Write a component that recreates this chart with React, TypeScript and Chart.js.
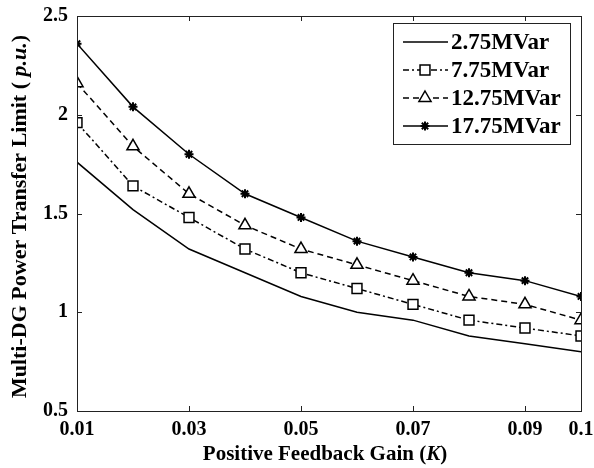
import React, { useEffect, useRef } from "react";
import { Chart, registerables } from "chart.js";

Chart.register(...registerables);

const gains = [0.01, 0.02, 0.03, 0.04, 0.05, 0.06, 0.07, 0.08, 0.09, 0.1];
const s275 = [1.76, 1.52, 1.32, 1.2, 1.08, 1.0, 0.96, 0.88, 0.84, 0.8];
const s775 = [1.96, 1.64, 1.48, 1.32, 1.2, 1.12, 1.04, 0.96, 0.92, 0.88];
const s1275 = [2.16, 1.84, 1.6, 1.44, 1.32, 1.24, 1.16, 1.08, 1.04, 0.96];
const s1775 = [2.36, 2.04, 1.8, 1.6, 1.48, 1.36, 1.28, 1.2, 1.16, 1.08];
const seriesNames = ["2.75MVar", "7.75MVar", "12.75MVar", "17.75MVar"];
const xTicks = [0.01, 0.03, 0.05, 0.07, 0.09, 0.1];
const xTickLabels = ["0.01", "0.03", "0.05", "0.07", "0.09", "0.1"];
const yTicks = [0.5, 1, 1.5, 2, 2.5];
const yTickLabels = ["0.5", "1", "1.5", "2", "2.5"];

const FONT = "'Liberation Serif', 'Times New Roman', serif";
const INK = "#000";

function toPts(vals: number[]) {
  return vals.map((v, i) => ({ x: gains[i], y: v }));
}

function drawMarker(ctx: CanvasRenderingContext2D, style: string, r: number, x: number, y: number) {
  ctx.beginPath();
  if (style === "rect") {
    const s = r * Math.SQRT1_2;
    ctx.rect(x - s, y - s, 2 * s, 2 * s);
    ctx.fill();
    ctx.stroke();
  } else if (style === "triangle") {
    ctx.moveTo(x, y - r);
    ctx.lineTo(x + r * 0.866, y + r / 2);
    ctx.lineTo(x - r * 0.866, y + r / 2);
    ctx.closePath();
    ctx.fill();
    ctx.stroke();
  } else {
    for (let k = 0; k < 4; k++) {
      const a = (k * Math.PI) / 4;
      ctx.moveTo(x + Math.cos(a) * r, y + Math.sin(a) * r);
      ctx.lineTo(x - Math.cos(a) * r, y - Math.sin(a) * r);
    }
    ctx.stroke();
  }
}

const framePlugin = {
  id: "frameAndTitles",
  afterDraw(chart: any) {
    const ctx = chart.ctx as CanvasRenderingContext2D;
    const { left, right, top, bottom } = chart.chartArea;
    const xs = chart.scales.x;
    const ys = chart.scales.y;
    ctx.save();
    ctx.strokeStyle = "#222";
    ctx.lineWidth = 1;
    ctx.setLineDash([]);
    ctx.strokeRect(Math.round(left) + 0.5, Math.round(top) + 0.5, Math.round(right - left), Math.round(bottom - top));
    const tl = 5;
    ctx.beginPath();
    xTicks.forEach((v) => {
      const px = Math.round(xs.getPixelForValue(v)) + 0.5;
      ctx.moveTo(px, bottom);
      ctx.lineTo(px, bottom - tl);
      ctx.moveTo(px, top);
      ctx.lineTo(px, top + tl);
    });
    yTicks.forEach((v) => {
      const py = Math.round(ys.getPixelForValue(v)) + 0.5;
      ctx.moveTo(left, py);
      ctx.lineTo(left + tl, py);
      ctx.moveTo(right, py);
      ctx.lineTo(right - tl, py);
    });
    ctx.stroke();

    const drawMixed = (parts: { t: string; it: boolean }[], cx: number, cy: number, size: number) => {
      let total = 0;
      parts.forEach((p) => {
        ctx.font = `${p.it ? "italic " : ""}bold ${size}px ${FONT}`;
        total += ctx.measureText(p.t).width;
      });
      let x = cx - total / 2;
      ctx.textBaseline = "middle";
      ctx.textAlign = "left";
      ctx.fillStyle = INK;
      parts.forEach((p) => {
        ctx.font = `${p.it ? "italic " : ""}bold ${size}px ${FONT}`;
        ctx.fillText(p.t, x, cy);
        x += ctx.measureText(p.t).width;
      });
    };
    drawMixed(
      [
        { t: "Positive Feedback Gain (", it: false },
        { t: "K", it: true },
        { t: ")", it: false },
      ],
      (left + right) / 2 - 4,
      bottom + 44,
      21
    );
    ctx.save();
    ctx.translate(left - 57, (top + bottom) / 2 + 3);
    ctx.rotate(-Math.PI / 2);
    drawMixed(
      [
        { t: "Multi-DG Power Transfer Limit ( ", it: false },
        { t: "p.u.", it: true },
        { t: ")", it: false },
      ],
      0,
      0,
      22
    );
    ctx.restore();

    // legend
    const bw = 177;
    const bh = 121;
    const bx = right - 11 - bw;
    const by = top + 7;
    ctx.fillStyle = "#fff";
    ctx.fillRect(bx, by, bw, bh);
    ctx.strokeStyle = "#222";
    ctx.lineWidth = 1;
    ctx.strokeRect(Math.round(bx) + 0.5, Math.round(by) + 0.5, bw, bh);
    chart.data.datasets.forEach((ds: any, i: number) => {
      const cy = by + 19 + i * 28;
      const x0 = bx + 10;
      const x1 = bx + 55;
      ctx.strokeStyle = INK;
      ctx.lineWidth = ds.borderWidth;
      ctx.setLineDash(ds.borderDash || []);
      ctx.beginPath();
      ctx.moveTo(x0, cy);
      ctx.lineTo(x1, cy);
      ctx.stroke();
      ctx.setLineDash([]);
      if (ds.pointStyle && ds.pointRadius > 0) {
        ctx.fillStyle = ds.pointBackgroundColor;
        ctx.strokeStyle = INK;
        ctx.lineWidth = ds.pointBorderWidth;
        drawMarker(ctx, ds.pointStyle, ds.pointRadius, bx + 32, cy);
      }
      ctx.fillStyle = INK;
      ctx.font = `bold 23px ${FONT}`;
      ctx.textAlign = "left";
      ctx.textBaseline = "middle";
      ctx.fillText(ds.label, x1 + 3, cy + 1);
    });
    ctx.restore();
  },
};

export default function App() {
  const ref = useRef<HTMLCanvasElement>(null);
  useEffect(() => {
    if (!ref.current) return;
    const tickFont = { family: FONT, size: 20, weight: "bold" as const };
    const chart = new Chart(ref.current, {
      type: "line",
      data: {
        datasets: [
          {
            label: seriesNames[0],
            data: toPts(s275),
            borderColor: INK,
            borderWidth: 1.5,
            pointRadius: 0,
            pointStyle: false as any,
          },
          {
            label: seriesNames[1],
            data: toPts(s775),
            borderColor: INK,
            borderWidth: 1.5,
            borderDash: [6, 3, 2, 3],
            pointStyle: "rect",
            pointRadius: 7,
            pointBorderWidth: 1.5,
            pointBackgroundColor: "#fff",
            pointBorderColor: INK,
          },
          {
            label: seriesNames[2],
            data: toPts(s1275),
            borderColor: INK,
            borderWidth: 1.5,
            borderDash: [6, 4],
            pointStyle: "triangle",
            pointRadius: 7,
            pointBorderWidth: 1.5,
            pointBackgroundColor: "#fff",
            pointBorderColor: INK,
          },
          {
            label: seriesNames[3],
            data: toPts(s1775),
            borderColor: INK,
            borderWidth: 1.5,
            pointStyle: "star",
            pointRadius: 4.5,
            pointBorderWidth: 2,
            pointBackgroundColor: INK,
            pointBorderColor: INK,
          },
        ],
      },
      options: {
        animation: false,
        responsive: false,
        layout: { padding: { top: 16, right: 13, left: 0, bottom: 0 } },
        plugins: { legend: { display: false }, tooltip: { enabled: false } },
        scales: {
          x: {
            type: "linear",
            min: 0.01,
            max: 0.1,
            afterBuildTicks: (s: any) => {
              s.ticks = xTicks.map((v) => ({ value: v }));
            },
            afterFit: (s: any) => {
              s.height = 57;
              s.paddingRight = 0;
              s.paddingLeft = 0;
            },
            ticks: {
              autoSkip: false,
              maxRotation: 0,
              padding: 7,
              color: INK,
              font: tickFont,
              callback: (v: any) => {
                const i = xTicks.findIndex((t) => Math.abs(t - v) < 1e-9);
                return i >= 0 ? xTickLabels[i] : "";
              },
            },
            grid: { display: false, drawTicks: false },
            border: { display: false },
          },
          y: {
            min: 0.5,
            max: 2.5,
            afterBuildTicks: (s: any) => {
              s.ticks = yTicks.map((v) => ({ value: v }));
            },
            afterFit: (s: any) => {
              s.width = 77;
              s.paddingTop = 0;
              s.paddingBottom = 0;
            },
            ticks: {
              padding: 9,
              color: INK,
              font: tickFont,
              callback: (v: any) => {
                const i = yTicks.findIndex((t) => Math.abs(t - v) < 1e-9);
                return i >= 0 ? yTickLabels[i] : "";
              },
            },
            grid: { display: false, drawTicks: false },
            border: { display: false },
          },
        },
      },
      plugins: [framePlugin],
    });
    return () => chart.destroy();
  }, []);
  return (
    <div style={{ position: "absolute", left: 0, top: 0, width: 594, height: 468, background: "#fff" }}>
      <canvas ref={ref} width={594} height={468} style={{ display: "block" }} />
    </div>
  );
}
